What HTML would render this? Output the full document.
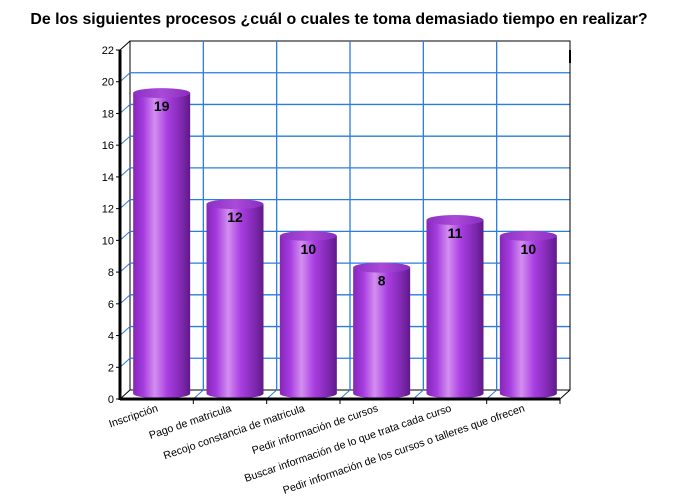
<!DOCTYPE html>
<html><head><meta charset="utf-8"><style>body{margin:0;background:#fff}svg{display:block}</style></head>
<body>
<svg id="c" width="680" height="500" xmlns="http://www.w3.org/2000/svg" font-family="Liberation Sans, sans-serif">
<defs>
<linearGradient id="cyl" x1="0" x2="1" y1="0" y2="0">
<stop offset="0" stop-color="#8526b8"/><stop offset="0.18" stop-color="#a53ce0"/>
<stop offset="0.38" stop-color="#d38ff0"/><stop offset="0.6" stop-color="#a93ee2"/>
<stop offset="0.85" stop-color="#7f28b0"/><stop offset="1" stop-color="#5e1a88"/>
</linearGradient>
<linearGradient id="topg" x1="0" x2="1"><stop offset="0" stop-color="#8d2fc4"/><stop offset="0.5" stop-color="#a94ad8"/><stop offset="1" stop-color="#8a2cc0"/></linearGradient>
</defs>
<text x="339" y="24" text-anchor="middle" font-size="15.9" font-weight="bold">De los siguientes procesos ¿cuál o cuales te toma demasiado tiempo en realizar?</text>
<g id="grid"></g><g id="bars"></g><g id="axes"></g>
<rect x="569" y="50" width="2" height="13" fill="#000"/>
</svg>
<script>
const categories=["Inscripción","Pago de matricula","Recojo constancia de matricula","Pedir información de cursos","Buscar información de lo que trata cada curso","Pedir información de los cursos o talleres que ofrecen"];
const values=[19,12,10,8,11,10];
const yTicks=[0,2,4,6,8,10,12,14,16,18,20,22];
const NS="http://www.w3.org/2000/svg";
const fx0=120,fy0=399,dx=10,dy=-9,W=440,H=349,ymax=22;
const n=categories.length,cw=W/n;
function y(v,d){return fy0-v/ymax*H+dy*d;}
function x(i,d){return fx0+i*cw+dx*d;}
function mk(t,a,p){const e=document.createElementNS(NS,t);for(const k in a)e.setAttribute(k,a[k]);(p||document.getElementById('c')).appendChild(e);return e;}
const G=document.getElementById('grid'),B=document.getElementById('bars'),A=document.getElementById('axes');
let wall=mk('rect',{x:x(0,1),y:y(ymax,1),width:W,height:H,fill:'none',stroke:'#000','stroke-width':1},G);

yTicks.forEach(v=>{
 if(v>0&&v<ymax){let l=mk('line',{x1:x(0,1),x2:x(n,1),y1:y(v,1),y2:y(v,1),stroke:'#2a7de0','stroke-width':1.3},G);
 }
 let d=mk('line',{x1:x(0,0),x2:x(0,1),y1:y(v,0),y2:y(v,1),stroke:v>0&&v<ymax?'#2a7de0':'#000','stroke-width':1},G);
 
 let tk=mk('line',{x1:fx0-4,x2:fx0,y1:y(v,0),y2:y(v,0),stroke:'#000'},A);
 
 let t=mk('text',{x:fx0-6,y:y(v,0)+4,'text-anchor':'end','font-size':11},A);t.textContent=v;
 
});
for(let i=1;i<=n;i++){
 let l=mk('line',{x1:x(i,1),x2:x(i,1),y1:y(0,1),y2:y(ymax,1),stroke:i<n?'#2a7de0':'#000','stroke-width':i<n?1.3:1},G);
 
 let f=mk('line',{x1:x(i,0),x2:x(i,1),y1:y(0,0),y2:y(0,1),stroke:i<n?'#2a7de0':'#000'},G);
 
}
let ya=mk('line',{x1:fx0,x2:fx0,y1:y(ymax,0),y2:fy0+1,stroke:'#000','stroke-width':3},A);

let xa=mk('line',{x1:fx0,x2:x(n,0),y1:fy0,y2:fy0,stroke:'#000','stroke-width':3},A);

values.forEach((v,i)=>{
 const cx=x(i+0.5,0.5),bw=57,rx=bw/2,ry=5,yb=y(0,0.5)-1,yt=y(v,0.5);
 const g=mk('g',{},B);
 mk('path',{d:`M${cx-rx},${yt} L${cx-rx},${yb} A${rx},${ry} 0 0 0 ${cx+rx},${yb} L${cx+rx},${yt} Z`,fill:'url(#cyl)'},g);
 mk('ellipse',{cx:cx,cy:yt,rx:rx,ry:ry,fill:'url(#topg)'},g);
 let t=mk('text',{x:cx,y:yt+18,'text-anchor':'middle','font-size':14,'font-weight':'bold'},g);t.textContent=v;
 
 let tk=mk('line',{x1:x(i+1,0),x2:x(i+1,0),y1:fy0,y2:fy0+5,stroke:'#000'},A);
 
 const lx=x(i+0.5,0)+2,ly=fy0+12;
 let c=mk('text',{x:lx,y:ly,'text-anchor':'end','font-size':10.7,transform:`rotate(-19 ${lx} ${ly})`},A);c.textContent=categories[i];
 
});
</script>
</body></html>
